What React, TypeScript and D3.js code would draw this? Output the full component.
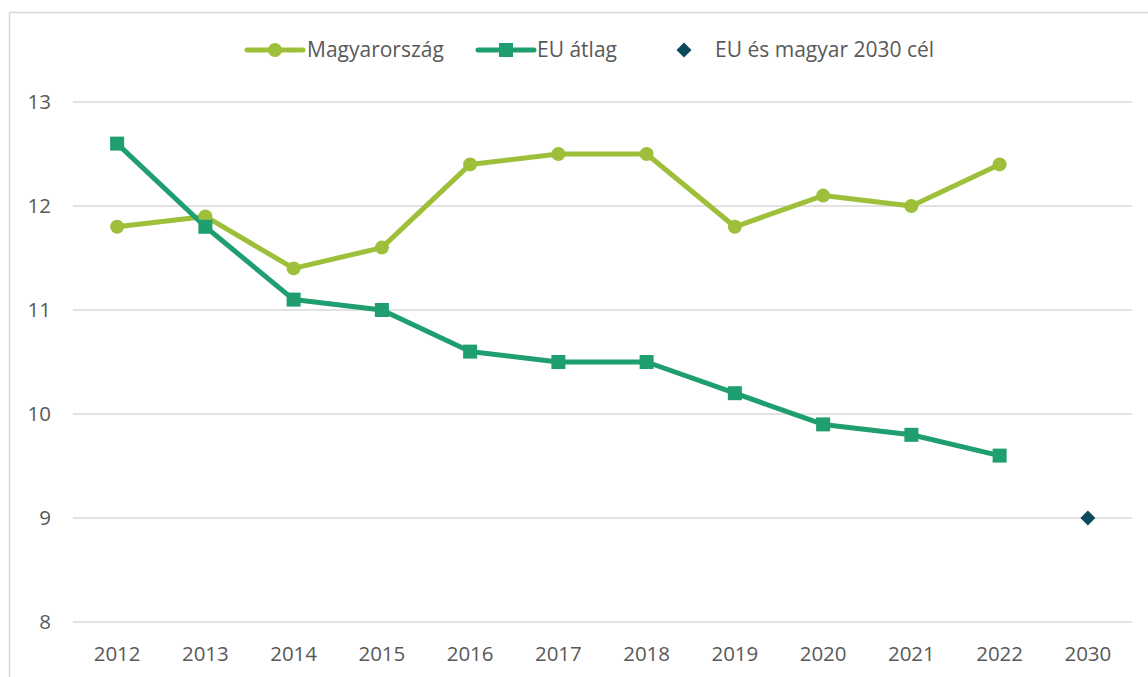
import React from "react";
import * as d3 from "d3";

const years = ["2012","2013","2014","2015","2016","2017","2018","2019","2020","2021","2022","2030"];
const huYears = ["2012","2013","2014","2015","2016","2017","2018","2019","2020","2021","2022"];
const huValues = [11.8, 11.9, 11.4, 11.6, 12.4, 12.5, 12.5, 11.8, 12.1, 12.0, 12.4];
const euValues = [12.6, 11.8, 11.1, 11.0, 10.6, 10.5, 10.5, 10.2, 9.9, 9.8, 9.6];
const targetYears = ["2030"];
const targetValues = [9.0];
const yTicks = [8, 9, 10, 11, 12, 13];
const legendLabels = ["Magyarország", "EU átlag", "EU és magyar 2030 cél"];

const W = 1148, H = 677;
const HU = "#9dbf3a";
const EU = "#1f9e6f";
const TG = "#0b4a5b";
const GRID = "#d9d9d9";
const TXT = "#595959";
const FONT = "'Open Sans', sans-serif";

const diamond = (s: number) => `M0,${-s}L${s},0L0,${s}L${-s},0Z`;

export default function App() {
  const x = d3.scaleBand<string>().domain(years).range([73, 1132]);
  const cx = (yr: string) => (x(yr) as number) + x.bandwidth() / 2;
  const y = d3.scaleLinear().domain([8, 13]).range([622, 102]);
  const line = d3.line<number>().x((_, i) => cx(huYears[i])).y((d) => y(d));
  return (
    <svg width={W} height={H} style={{ position: "absolute", left: 0, top: 0 }}>
      <rect x={0} y={0} width={W} height={H} fill="#fff" />
      <rect x={9.5} y={12.5} width={1300} height={800} fill="none" stroke={GRID} strokeWidth={1.5} />
      {yTicks.map((t) => (
        <g key={t}>
          <line x1={73} x2={1132} y1={y(t)} y2={y(t)} stroke={GRID} strokeWidth={1.5} />
          <text x={51} y={y(t)} dy="0.35em" textAnchor="end" fontFamily={FONT} fontSize={20.5} fill={TXT}>{t}</text>
        </g>
      ))}
      {years.map((yr) => (
        <text key={yr} x={cx(yr)} y={654} dy="0.35em" textAnchor="middle" fontFamily={FONT} fontSize={20.5} fill={TXT}>{yr}</text>
      ))}
      <path d={line(huValues) || ""} fill="none" stroke={HU} strokeWidth={5} strokeLinejoin="round" />
      <path d={line(euValues) || ""} fill="none" stroke={EU} strokeWidth={5} strokeLinejoin="round" />
      {huValues.map((v, i) => (
        <circle key={"h" + i} cx={cx(huYears[i])} cy={y(v)} r={7} fill={HU} />
      ))}
      {euValues.map((v, i) => (
        <rect key={"e" + i} x={cx(huYears[i]) - 7} y={y(v) - 7} width={14} height={14} fill={EU} />
      ))}
      {targetValues.map((v, i) => (
        <path key={"t" + i} d={diamond(7.5)} transform={`translate(${cx(targetYears[i])},${y(v)})`} fill={TG} />
      ))}
      <g fontFamily={FONT} fontSize={21} fill={TXT}>
        <line x1={247} x2={303} y1={50} y2={50} stroke={HU} strokeWidth={5} strokeLinecap="round" />
        <circle cx={275} cy={50} r={7} fill={HU} />
        <text x={307} y={50} dy="0.35em">{legendLabels[0]}</text>
        <line x1={478} x2={534} y1={50} y2={50} stroke={EU} strokeWidth={5} strokeLinecap="round" />
        <rect x={499} y={43} width={14} height={14} fill={EU} />
        <text x={537} y={50} dy="0.35em">{legendLabels[1]}</text>
        <path d={diamond(7.5)} transform="translate(684,50)" fill={TG} />
        <text x={715} y={50} dy="0.35em">{legendLabels[2]}</text>
      </g>
    </svg>
  );
}
